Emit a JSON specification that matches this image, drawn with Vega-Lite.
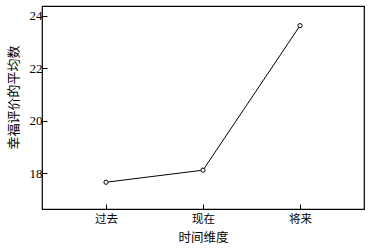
{
  "$schema": "https://vega.github.io/schema/vega-lite/v6.json",
  "autosize": "none",
  "padding": {"left": 42, "top": 6, "right": 7, "bottom": 41},
  "width": 322,
  "height": 203,
  "background": "white",
  "config": {
    "view": {"stroke": "black", "strokeWidth": 1.2},
    "font": "Liberation Serif"
  },
  "data": {
    "values": [
      {"time": "过去", "mean": 17.65},
      {"time": "现在", "mean": 18.11},
      {"time": "将来", "mean": 23.62}
    ]
  },
  "encoding": {
    "x": {
      "field": "time",
      "type": "ordinal",
      "sort": ["过去", "现在", "将来"],
      "scale": {"padding": 0.66},
      "axis": {
        "title": "时间维度",
        "titleFont": "Noto Sans CJK SC",
        "titleFontSize": 12.5,
        "titleFontWeight": "normal",
        "titleColor": "black",
        "titlePadding": 7,
        "labelFont": "Noto Sans CJK SC",
        "labelFontSize": 11.5,
        "labelColor": "black",
        "labelAngle": 0,
        "labelPadding": 9,
        "tickSize": -5,
        "tickColor": "black",
        "domain": false
      }
    },
    "y": {
      "field": "mean",
      "type": "quantitative",
      "scale": {"domain": [16.63, 24.37], "nice": false, "zero": false},
      "axis": {
        "title": "幸福评价的平均数",
        "titleFont": "Noto Sans CJK SC",
        "titleFontSize": 13,
        "titleFontWeight": "normal",
        "titleColor": "black",
        "titlePadding": 9,
        "titleY": 91,
        "values": [18, 20, 22, 24],
        "labelFont": "Liberation Serif",
        "labelFontSize": 13,
        "labelColor": "black",
        "labelPadding": 5,
        "tickSize": -5,
        "tickColor": "black",
        "domain": false,
        "grid": false
      }
    }
  },
  "layer": [
    {"mark": {"type": "line", "color": "black", "strokeWidth": 1}},
    {"mark": {"type": "point", "shape": "circle", "filled": true, "fill": "white", "stroke": "black", "strokeWidth": 1, "size": 18, "opacity": 1}}
  ]
}
